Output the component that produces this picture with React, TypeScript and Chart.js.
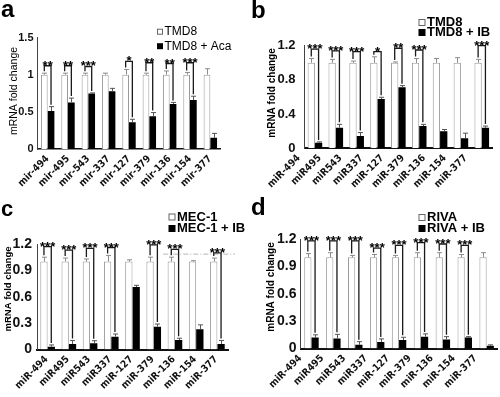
import React, { useEffect, useRef } from 'react';
import { Chart, registerables } from 'chart.js';
Chart.register(...registerables);

const FONT = "Arial, 'Liberation Sans', Helvetica, sans-serif";
const NARROW = "'Liberation Sans Narrow', 'Arial Narrow', 'DejaVu Sans Condensed', Arial, sans-serif";

// ---------- data ----------
const catsA = ['mir-494', 'mir-495', 'mir-543', 'mir-337', 'mir-127', 'mir-379', 'mir-136', 'mir-154', 'mir-377'];
const catsBCD = ['miR-494', 'miR495', 'miR543', 'miR337', 'miR-127', 'miR-379', 'miR-136', 'miR-154', 'miR-377'];

const aCtrl = [1, 1, 1, 1, 1, 1, 1, 1, 1];
const aCtrlErr = [0.02, 0.02, 0.02, 0.02, 0.07, 0.02, 0.05, 0.03, 0.08];
const aTreat = [0.51, 0.625, 0.745, 0.776, 0.36, 0.44, 0.607, 0.66, 0.15];
const aTreatErr = [0.06, 0.06, 0.01, 0.04, 0.04, 0.05, 0.02, 0.05, 0.06];
const aSig = ['**', '**', '***', '', '*', '**', '**', '***', ''];
const aSigAt = [1.12, 1.12, 1.11, null, 1.18, 1.16, 1.15, 1.16, null];

const bCtrl = [1, 1, 1, 1, 1, 1, 1, 1, 1];
const bCtrlErr = [0.05, 0.04, 0.02, 0.07, 0.01, 0.05, 0.05, 0.06, 0.04];
const bTreat = [0.065, 0.24, 0.144, 0.577, 0.713, 0.26, 0.2, 0.117, 0.24];
const bTreatErr = [0.01, 0.04, 0.04, 0.02, 0.02, 0.02, 0.02, 0.06, 0.02];
const bSig = ['***', '***', '***', '*', '**', '***', '', '', '***'];
const bSigAt = [1.16, 1.14, 1.13, 1.13, 1.17, 1.15, null, null, 1.2];

const cCtrl = [1, 1, 1, 1, 1, 1, 1, 1, 1];
const cCtrlErr = [0.05, 0.04, 0.03, 0.07, 0.02, 0.05, 0.05, 0.01, 0.04];
const cTreat = [0.032, 0.063, 0.07, 0.146, 0.71, 0.26, 0.108, 0.23, 0.063];
const cTreatErr = [0.02, 0.04, 0.03, 0.03, 0.02, 0.03, 0.02, 0.05, 0.04];
const cSig = ['***', '***', '***', '***', '', '***', '***', '', '***'];
const cSigAt = [1.17, 1.13, 1.15, 1.16, null, 1.19, 1.14, null, 1.1];
const cRefValue = 1.085;
const cRefFrom = 'miR-136';

const dCtrl = [1, 1, 1, 1, 1, 1, 1, 1, 1];
const dCtrlErr = [0.04, 0.05, 0.02, 0.03, 0.02, 0.05, 0.05, 0.03, 0.05];
const dTreat = [0.12, 0.11, 0.04, 0.07, 0.093, 0.13, 0.1, 0.12, 0.03];
const dTreatErr = [0.03, 0.045, 0.035, 0.035, 0.03, 0.03, 0.03, 0.01, 0.01];
const dSig = ['***', '***', '***', '***', '***', '***', '***', '***', ''];
const dSigAt = [1.18, 1.18, 1.18, 1.1, 1.13, 1.16, 1.145, 1.13, null];

const yTitle = 'mRNA fold change';

// ---------- layout ----------
type Layout = {
  x: number; y: number; w: number; h: number;
  area: [number, number, number, number];
  catPct: number;
  tickSize: number; tickWeight: string;
  xSize: number; xWeight: string; xOffset: number; xPad: number; xAxisW: number;
  yPad: number;
  titleFont: string; titlePos: [number, number];
  letterPos: [number, number]; letterSize: number;
  legendPos: [number, number]; legendGap: number; legendFont: string; box: number;
};

type Panel = {
  key: string; letter: string; cats: string[];
  ctrl: number[]; ctrlErr: number[]; treat: number[]; treatErr: number[];
  sig: string[]; sigAt: (number | null)[];
  legend: [string, string]; yMax: number; yStep: number;
  ref?: { value: number; from: string };
  L: Layout;
};

const PANELS: Panel[] = [
  {
    key: 'a', letter: 'a', cats: catsA, ctrl: aCtrl, ctrlErr: aCtrlErr, treat: aTreat, treatErr: aTreatErr,
    sig: aSig, sigAt: aSigAt, legend: ['TMD8', 'TMD8 + Aca'], yMax: 1.5, yStep: 0.5,
    L: {
      x: 0, y: 0, w: 250, h: 197, area: [37.5, 37.5, 220.5, 149], catPct: 0.66,
      tickSize: 11, tickWeight: 'bold', xSize: 10, xWeight: 'bold', xOffset: 0, xPad: 4, xAxisW: 1.5, yPad: 4,
      titleFont: `10.5px ${FONT}`, titlePos: [14.5, 91], letterPos: [1, 17], letterSize: 24,
      legendPos: [157, 31.7], legendGap: 14.5, legendFont: `12px ${FONT}`, box: 6,
    },
  },
  {
    key: 'b', letter: 'b', cats: catsBCD, ctrl: bCtrl, ctrlErr: bCtrlErr, treat: bTreat, treatErr: bTreatErr,
    sig: bSig, sigAt: bSigAt, legend: ['TMD8', 'TMD8 + IB'], yMax: 1.2, yStep: 0.4,
    L: {
      x: 250, y: 0, w: 250, h: 197, area: [54.5, 45.7, 242.2, 148.3], catPct: 0.7,
      tickSize: 13, tickWeight: 'bold', xSize: 10, xWeight: 'bold', xOffset: -16, xPad: 4, xAxisW: 2, yPad: 9,
      titleFont: `bold 10px ${FONT}`, titlePos: [22, 93], letterPos: [1, 18], letterSize: 24,
      legendPos: [168.5, 22.5], legendGap: 10, legendFont: `bold 13px ${FONT}`, box: 7,
    },
  },
  {
    key: 'c', letter: 'c', cats: catsBCD, ctrl: cCtrl, ctrlErr: cCtrlErr, treat: cTreat, treatErr: cTreatErr,
    sig: cSig, sigAt: cSigAt, legend: ['MEC-1', 'MEC-1 + IB'], yMax: 1.2, yStep: 0.3,
    ref: { value: cRefValue, from: cRefFrom },
    L: {
      x: 0, y: 197, w: 250, h: 200, area: [37, 47, 228, 152.5], catPct: 0.69,
      tickSize: 14, tickWeight: 'bold', xSize: 10, xWeight: 'bold', xOffset: -1, xPad: 4, xAxisW: 2, yPad: 5,
      titleFont: `bold 9.5px ${FONT}`, titlePos: [8.5, 92], letterPos: [1, 19], letterSize: 22,
      legendPos: [168.5, 20], legendGap: 11.5, legendFont: `bold 13px ${FONT}`, box: 7,
    },
  },
  {
    key: 'd', letter: 'd', cats: catsBCD, ctrl: dCtrl, ctrlErr: dCtrlErr, treat: dTreat, treatErr: dTreatErr,
    sig: dSig, sigAt: dSigAt, legend: ['RIVA', 'RIVA + IB'], yMax: 1.2, yStep: 0.3,
    L: {
      x: 250, y: 197, w: 250, h: 200, area: [50.5, 42, 247.6, 151.5], catPct: 0.66,
      tickSize: 14, tickWeight: 'bold', xSize: 10, xWeight: 'bold', xOffset: -11, xPad: 4, xAxisW: 2, yPad: 4,
      titleFont: `bold 10px ${FONT}`, titlePos: [21.5, 90], letterPos: [1, 18], letterSize: 24,
      legendPos: [168.5, 20.5], legendGap: 11, legendFont: `bold 13px ${FONT}`, box: 7,
    },
  },
];

function overlay(p: Panel) {
  const L = p.L;
  return {
    id: 'overlay_' + p.key,
    afterDatasetsDraw(chart: any) {
      const ctx = chart.ctx as CanvasRenderingContext2D;
      const ys = chart.scales.y;
      const xs = chart.scales.x;
      const m0 = chart.getDatasetMeta(0).data;
      const m1 = chart.getDatasetMeta(1).data;
      ctx.save();
      const cap = 2.5;
      const errs = (els: any[], vals: number[], es: number[], color: string) => {
        ctx.strokeStyle = color;
        ctx.lineWidth = 1;
        els.forEach((el: any, i: number) => {
          const y0 = ys.getPixelForValue(vals[i]);
          const y1 = ys.getPixelForValue(vals[i] + es[i]);
          const x = Math.round(el.x) + 0.5;
          ctx.beginPath();
          ctx.moveTo(x, y0);
          ctx.lineTo(x, y1);
          ctx.moveTo(x - cap, y1);
          ctx.lineTo(x + cap, y1);
          ctx.stroke();
        });
      };
      errs(m0, p.ctrl, p.ctrlErr, '#8c8c8c');
      errs(m1, p.treat, p.treatErr, '#555');

      if (p.ref) {
        const idx = p.cats.indexOf(p.ref.from);
        const step = (chart.chartArea.right - chart.chartArea.left) / p.cats.length;
        const yv = ys.getPixelForValue(p.ref.value);
        ctx.strokeStyle = '#b5b5b5';
        ctx.lineWidth = 1;
        ctx.setLineDash([5, 2, 1, 2]);
        ctx.beginPath();
        ctx.moveTo(xs.getPixelForValue(idx) - step * 0.55, yv);
        ctx.lineTo(chart.chartArea.right + 7, yv);
        ctx.stroke();
        ctx.setLineDash([]);
      }

      ctx.strokeStyle = '#1a1a1a';
      ctx.lineWidth = 1.3;
      ctx.fillStyle = '#000';
      ctx.font = `bold 13px ${FONT}`;
      ctx.textAlign = 'center';
      ctx.textBaseline = 'alphabetic';
      p.sig.forEach((s, i) => {
        const at = p.sigAt[i];
        if (!s || at == null) return;
        const xl = m0[i].x;
        const xr = m1[i].x;
        const yb = ys.getPixelForValue(at);
        const yl = ys.getPixelForValue(p.ctrl[i] + p.ctrlErr[i]) - 2;
        const yr = ys.getPixelForValue(p.treat[i] + p.treatErr[i]) - 2;
        ctx.beginPath();
        ctx.moveTo(xl, yl);
        ctx.lineTo(xl, yb);
        ctx.lineTo(xr, yb);
        ctx.lineTo(xr, yr);
        ctx.stroke();
        ctx.fillText(s, (xl + xr) / 2, yb + 4);
      });
      ctx.restore();
    },
    afterDraw(chart: any) {
      const ctx = chart.ctx as CanvasRenderingContext2D;
      ctx.save();
      // panel letter
      ctx.fillStyle = '#000';
      ctx.font = `bold ${L.letterSize}px ${FONT}`;
      ctx.textAlign = 'left';
      ctx.textBaseline = 'alphabetic';
      ctx.fillText(p.letter, L.letterPos[0], L.letterPos[1]);
      // y title
      ctx.save();
      ctx.translate(L.titlePos[0], L.titlePos[1]);
      ctx.rotate(-Math.PI / 2);
      ctx.font = L.titleFont;
      ctx.textAlign = 'center';
      ctx.textBaseline = 'middle';
      ctx.fillText(yTitle, 0, 0);
      ctx.restore();
      // legend
      ctx.font = L.legendFont;
      ctx.textBaseline = 'middle';
      ctx.textAlign = 'left';
      p.legend.forEach((txt, i) => {
        const cy = L.legendPos[1] + i * L.legendGap;
        const bx = L.legendPos[0];
        const b = L.box;
        if (i === 0) {
          ctx.fillStyle = '#fff';
          ctx.fillRect(bx, cy - b / 2, b, b);
          ctx.strokeStyle = '#666';
          ctx.lineWidth = 1;
          ctx.strokeRect(bx + 0.5, cy - b / 2 + 0.5, b - 1, b - 1);
        } else {
          ctx.fillStyle = '#000';
          ctx.fillRect(bx, cy - b / 2, b, b);
        }
        ctx.fillStyle = '#000';
        ctx.fillText(txt, bx + b + 1.5, cy);
      });
      ctx.restore();
    },
  };
}

function fmt(v: any) {
  return String(Number(Number(v).toFixed(2)));
}

function build(canvas: HTMLCanvasElement, p: Panel) {
  const L = p.L;
  return new Chart(canvas, {
    type: 'bar',
    data: {
      labels: p.cats,
      datasets: [
        {
          label: p.legend[0], data: p.ctrl, backgroundColor: '#ffffff', borderColor: '#9a9a9a',
          borderWidth: 1, barPercentage: 1, categoryPercentage: L.catPct,
        },
        {
          label: p.legend[1], data: p.treat, backgroundColor: '#000000', borderColor: '#000000',
          borderWidth: 0, barPercentage: 1, categoryPercentage: L.catPct,
        },
      ],
    },
    options: {
      responsive: false,
      animation: false,
      devicePixelRatio: 1,
      layout: { padding: { left: 0, top: L.area[1], right: L.w - L.area[2], bottom: 0 } },
      plugins: { legend: { display: false }, tooltip: { enabled: false }, title: { display: false } },
      scales: {
        x: {
          grid: { display: false, drawTicks: false },
          border: { display: true, color: '#111', width: L.xAxisW },
          ticks: {
            autoSkip: false, minRotation: 45, maxRotation: 45, padding: L.xPad, labelOffset: L.xOffset,
            color: '#111', font: { family: NARROW, size: L.xSize, weight: L.xWeight as any },
          },
          afterFit: (s: any) => { s.height = L.h - L.area[3]; },
        },
        y: {
          min: 0, max: p.yMax,
          grid: { display: false, drawTicks: false },
          border: { display: true, color: '#444', width: 1 },
          ticks: {
            stepSize: p.yStep, padding: L.yPad, color: '#111', callback: fmt,
            font: { family: FONT, size: L.tickSize, weight: L.tickWeight as any },
          },
          afterFit: (s: any) => { s.width = L.area[0]; },
        },
      },
    } as any,
    plugins: [overlay(p)],
  });
}

export default function App() {
  const r0 = useRef<HTMLCanvasElement>(null);
  const r1 = useRef<HTMLCanvasElement>(null);
  const r2 = useRef<HTMLCanvasElement>(null);
  const r3 = useRef<HTMLCanvasElement>(null);
  const refs = [r0, r1, r2, r3];
  useEffect(() => {
    const charts = PANELS.map((p, i) => build(refs[i].current as HTMLCanvasElement, p));
    return () => charts.forEach((c) => c.destroy());
  }, []);
  return (
    <div style={{ position: 'absolute', left: 0, top: 0, width: 500, height: 397, background: '#fff' }}>
      {PANELS.map((p, i) => (
        <canvas
          key={p.key}
          ref={refs[i]}
          width={p.L.w}
          height={p.L.h}
          style={{ position: 'absolute', left: p.L.x, top: p.L.y, width: p.L.w, height: p.L.h }}
        />
      ))}
    </div>
  );
}
